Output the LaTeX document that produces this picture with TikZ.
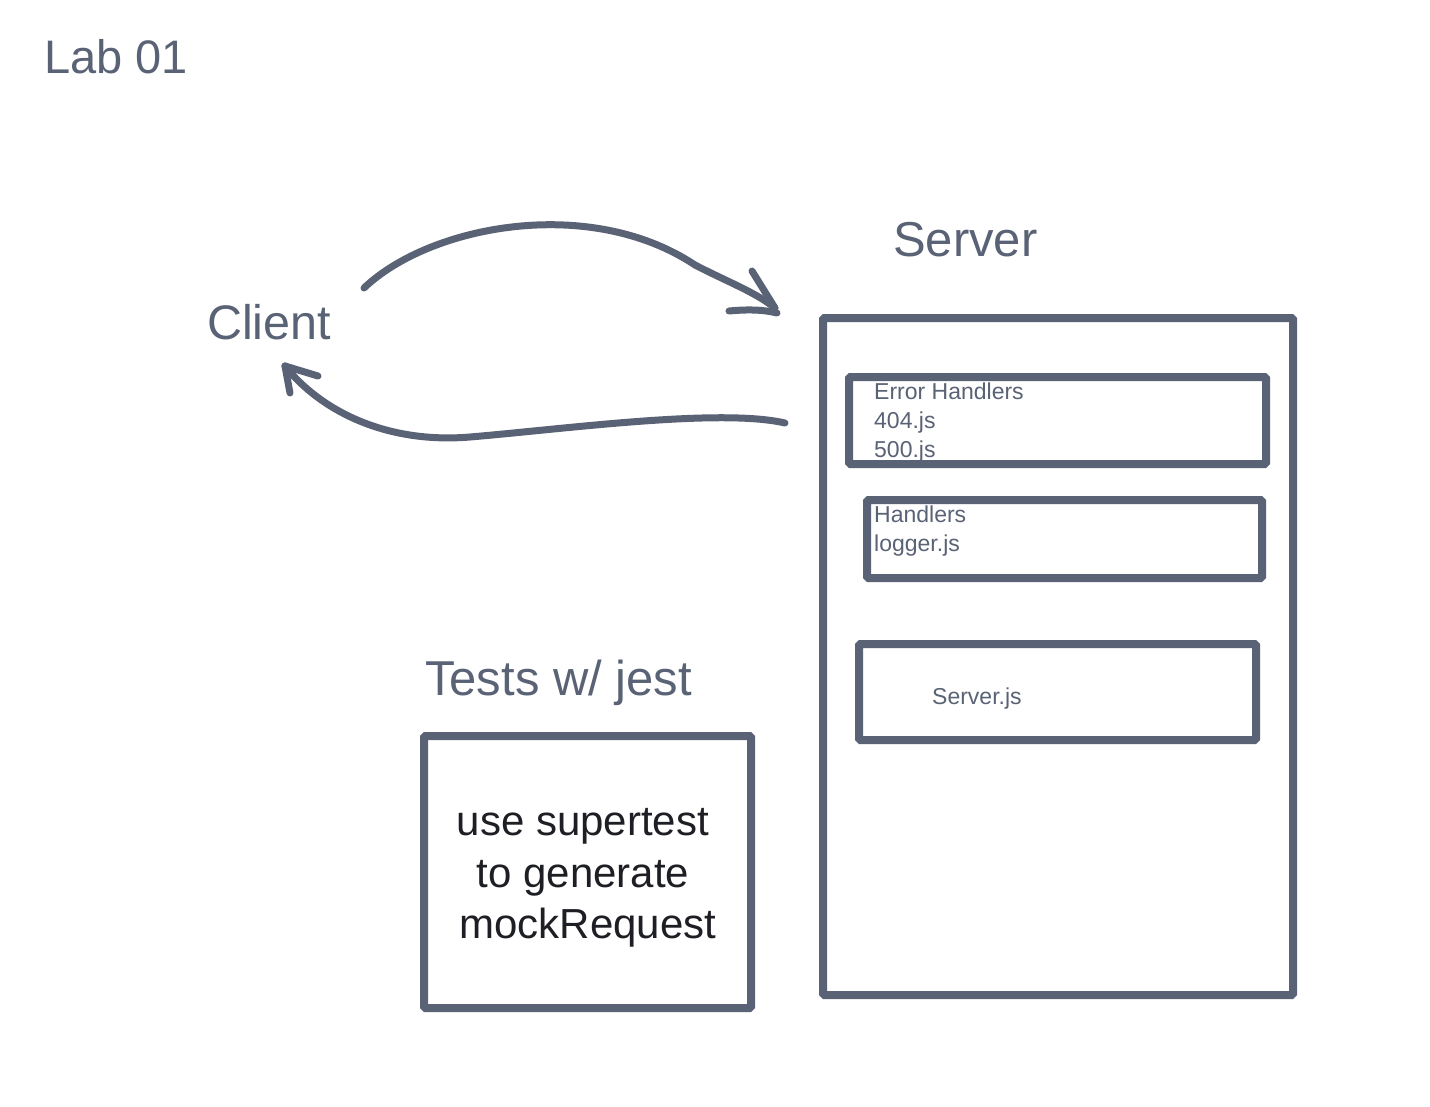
\documentclass[tikz,border=0pt]{standalone}
\usepackage{fontspec}
\setmainfont{Liberation Sans}
\definecolor{ink}{RGB}{90,98,117}
\definecolor{dark}{RGB}{30,31,36}
\begin{document}
\begin{tikzpicture}[x=1pt,y=-1pt,
  box/.style={draw=ink,line width=8pt,rounded corners=1.5pt,inner sep=0pt},
  pen/.style={draw=ink,line width=7pt,line cap=round,line join=round},
  big/.style={text=ink,inner sep=0pt,font=\fontsize{49}{58}\selectfont},
  small/.style={text=ink,inner sep=0pt,font=\fontsize{23}{27}\selectfont},
  body/.style={text=dark,inner sep=0pt,font=\fontsize{42}{50}\selectfont}]
\useasboundingbox[fill=white] (0,0) rectangle (1430,1106);

% titles
\node[big,anchor=base west,font=\fontsize{47}{56}\selectfont] (lab) at (44,73) {Lab 01};
\node[big,anchor=base west] (server) at (893,256) {Server};
\node[big,anchor=base west,font=\fontsize{48.5}{58}\selectfont] (client) at (207,339) {Client};
\node[big,anchor=base west] (tests) at (425,695) {Tests w/ jest};

% tests box
\node[box,minimum width=327pt,minimum height=272pt] (testbox) at (587.5,872) {};
\node[body,anchor=base] (t1) at (583,835) {use supertest};
\node[body,anchor=base] (t2) at (583,887) {to generate};
\node[body,anchor=base] (t3) at (588,938) {mockRequest};

% server box
\node[box,minimum width=470pt,minimum height=677pt] (srvbox) at (1058,656.5) {};
\node[box,minimum width=417pt,minimum height=87pt] (errbox) at (1057.5,420.5) {};
\node[box,minimum width=395pt,minimum height=78pt] (hndbox) at (1064.5,539) {};
\node[box,minimum width=397pt,minimum height=96pt] (sjsbox) at (1057.5,692) {};

\node[small,anchor=base west] (e1) at (874,399) {Error Handlers};
\node[small,anchor=base west] (e2) at (874,428) {404.js};
\node[small,anchor=base west] (e3) at (874,457) {500.js};
\node[small,anchor=base west] (h1) at (874,522) {Handlers};
\node[small,anchor=base west] (h2) at (874,551) {logger.js};
\node[small,anchor=base west] (s1) at (932,704) {Server.js};

% top arrow (client -> server)
\coordinate (a0) at (364,288);
\coordinate (a1) at (695,265);
\coordinate (a2) at (775,308);
\coordinate (ah1) at (752,271);
\coordinate (ah2) at (729,311);
\coordinate (ah3) at (777,313);
\path[pen] (a0) .. controls (430,225) and (590,195) .. (a1)
  .. controls (730,283) and (755,292) .. (a2);
\path[pen] (ah1) -- (a2);
\path[pen] (ah2) .. controls (750,309) and (765,310) .. (ah3);

% bottom arrow (server -> client)
\coordinate (b0) at (785,423);
\coordinate (b1) at (470,437);
\coordinate (b2) at (285,366);
\coordinate (bh1) at (318,376);
\coordinate (bh2) at (290,393);
\path[pen] (b0) .. controls (720,408) and (565,429) .. (b1)
  .. controls (385,444) and (320,410) .. (b2);
\path[pen] (b2) -- (bh1);
\path[pen] (b2) -- (bh2);
\end{tikzpicture}
\end{document}
